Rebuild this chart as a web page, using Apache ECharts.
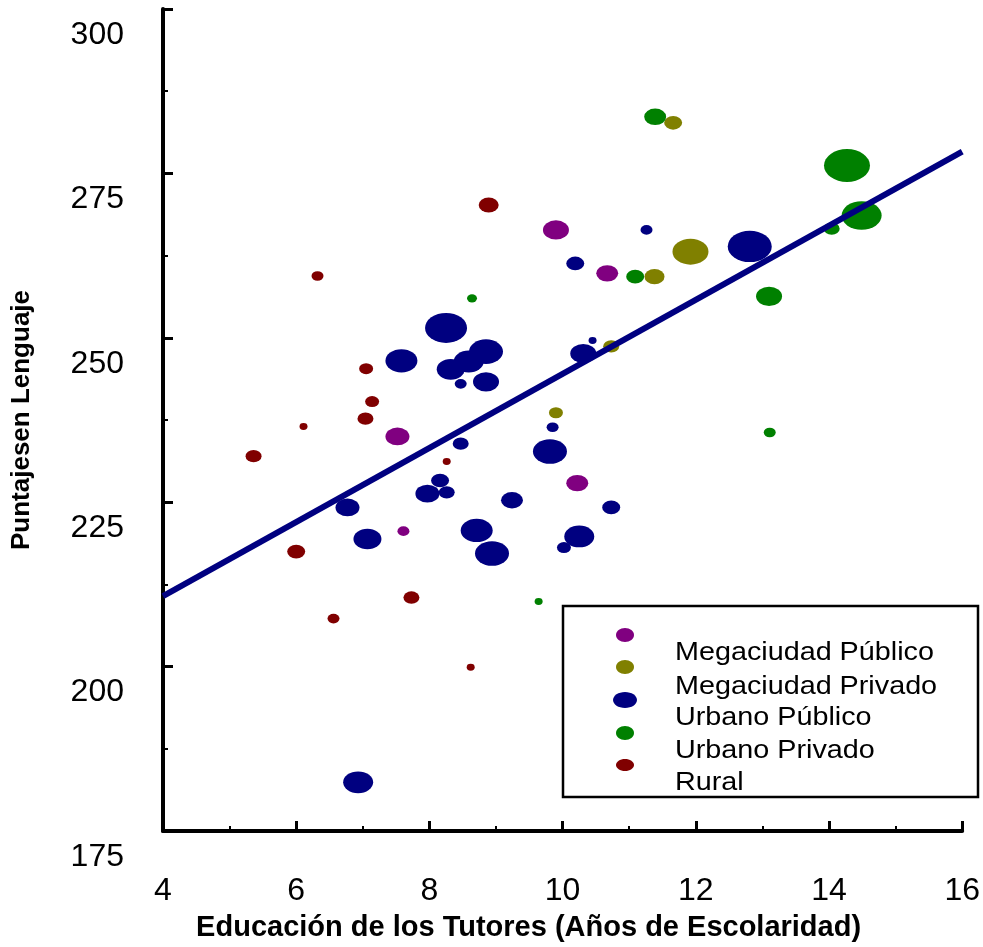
<!DOCTYPE html>
<html>
<head>
<meta charset="utf-8">
<script src="https://cdn.jsdelivr.net/npm/echarts@6/dist/echarts.min.js"></script>
<style>
  html, body { margin: 0; padding: 0; background: #fff; }
  #chart { width: 983px; height: 947px; }
</style>
</head>
<body>
<div id="chart"></div>
<script>
// Datos: [educación tutores, puntaje lenguaje, tamaño]
const megaPublico = [
    [9.90, 266.4, 26], [10.67, 259.8, 22], [7.52, 235.0, 24], [10.22, 227.9, 22], [7.61, 220.6, 12]
];
const megaPrivado = [
    [11.66, 282.7, 18], [11.92, 263.1, 36], [11.38, 259.3, 20], [10.73, 248.7, 16], [9.90, 238.6, 14]
];
const urbanoPublico = [
    [12.81, 263.9, 44], [11.26, 266.4, 12], [10.19, 261.3, 18], [10.45, 249.6, 8], [10.31, 247.6, 26],
    [8.25, 251.5, 42], [7.58, 246.5, 32], [8.85, 247.9, 34], [8.59, 246.4, 30], [8.32, 245.2, 28],
    [8.85, 243.3, 26], [8.47, 243.0, 12], [8.47, 233.9, 16], [9.81, 232.7, 34], [9.85, 236.4, 12],
    [8.16, 228.3, 18], [7.97, 226.3, 24], [8.26, 226.5, 16], [9.24, 225.3, 22], [10.73, 224.2, 18],
    [8.71, 220.7, 32], [8.94, 217.2, 34], [10.25, 219.8, 30], [10.02, 218.1, 14], [6.77, 224.2, 24],
    [7.07, 219.4, 28], [6.93, 182.4, 30]
];
const urbanoPrivado = [
    [11.39, 283.6, 22], [14.27, 276.2, 46], [14.49, 268.6, 40], [14.04, 266.6, 16], [11.09, 259.3, 18],
    [13.10, 256.3, 26], [8.64, 256.0, 10], [13.11, 235.6, 12], [9.64, 209.9, 8]
];
const rural = [
    [8.89, 270.2, 20], [6.32, 259.4, 12], [7.05, 245.3, 14], [7.14, 240.3, 14], [7.04, 237.7, 16],
    [6.11, 236.5, 8], [5.36, 232.0, 16], [8.26, 231.2, 8], [6.00, 217.5, 18], [7.73, 210.5, 16],
    [6.56, 207.3, 12], [8.62, 199.9, 8]
];
// recta de regresión
const tendencia = [[4, 210.7], [16, 278.3]];

const grupos = [
    { name: 'Megaciudad Público', color: '#800080', data: megaPublico },
    { name: 'Megaciudad Privado', color: '#808000', data: megaPrivado },
    { name: 'Urbano Público', color: '#000080', data: urbanoPublico },
    { name: 'Urbano Privado', color: '#008000', data: urbanoPrivado },
    { name: 'Rural', color: '#800000', data: rural }
];

const FONT = '"Liberation Sans", Arial, sans-serif';

// burbujas elípticas (más anchas que altas)
const bubbleSize = v => [v[2], v[2] * 0.68 + 1.5];

const chart = echarts.init(document.getElementById('chart'));

const series = grupos.map(g => ({
    name: g.name,
    type: 'scatter',
    data: g.data,
    symbol: 'circle',
    symbolSize: bubbleSize,
    itemStyle: { color: g.color, opacity: 1 },
    z: 2
}));

series.push({
    name: 'Tendencia',
    type: 'line',
    data: tendencia,
    symbol: 'none',
    lineStyle: { color: '#000080', width: 6 },
    z: 5,
    silent: true
});

// leyenda dibujada a mano (marcadores y textos desfasados como en el original)
const legendX = 563, legendY = 606;
const markerY = [635, 667, 700, 733, 765];
const markerR = [[9, 7], [9, 7], [12, 8], [9, 7], [9, 6]];
const textY = [653, 687, 718, 751, 783];
const legendGraphic = [{
    type: 'rect',
    shape: { x: legendX, y: legendY, width: 415, height: 191 },
    style: { fill: '#fff', stroke: '#000', lineWidth: 2.5 },
    z: 10
}];
grupos.forEach((g, i) => {
    legendGraphic.push({
        type: 'ellipse',
        shape: { cx: 625, cy: markerY[i], rx: markerR[i][0], ry: markerR[i][1] },
        style: { fill: g.color },
        z: 11
    });
    legendGraphic.push({
        type: 'text',
        x: 675,
        y: textY[i],
        scaleX: 1.15,
        style: {
            text: g.name,
            fill: '#000',
            font: '25px ' + FONT,
            verticalAlign: 'middle',
            align: 'left'
        },
        z: 11
    });
});

const option = {
    backgroundColor: '#fff',
    animation: false,
    grid: { left: 163, right: 18, top: 9, bottom: 115 },
    xAxis: {
        type: 'value',
        min: 4,
        max: 16,
        interval: 2,
        name: 'Educación de los Tutores (Años de Escolaridad)',
        nameLocation: 'middle',
        nameGap: 82,
        nameTextStyle: {
            fontFamily: FONT, fontSize: 29, fontWeight: 'bold', color: '#000',
            padding: [0, 68, 0, 0]
        },
        axisLine: { show: true, lineStyle: { color: '#000', width: 4 } },
        axisTick: { show: true, inside: true, length: 10, lineStyle: { color: '#000', width: 3 } },
        minorTick: { show: true, splitNumber: 2, length: 5, lineStyle: { color: '#000', width: 2 } },
        splitLine: { show: false },
        axisLabel: {
            fontFamily: FONT, fontSize: 32, color: '#000', margin: 44,
            showMinLabel: true, showMaxLabel: true
        }
    },
    yAxis: {
        type: 'value',
        min: 175,
        max: 300,
        interval: 25,
        name: 'Puntajesen Lenguaje',
        nameLocation: 'middle',
        nameRotate: 90,
        nameGap: 128,
        nameTextStyle: { fontFamily: FONT, fontSize: 26, fontWeight: 'bold', color: '#000' },
        axisLine: { show: true, lineStyle: { color: '#000', width: 4 } },
        axisTick: { show: true, inside: true, length: 10, lineStyle: { color: '#000', width: 3 } },
        minorTick: { show: true, splitNumber: 2, length: 5, lineStyle: { color: '#000', width: 2 } },
        splitLine: { show: false },
        axisLabel: {
            fontFamily: FONT, fontSize: 32, color: '#000', margin: 39,
            verticalAlign: 'top', lineHeight: 52,
            showMinLabel: true, showMaxLabel: true
        }
    },
    series: series,
    graphic: legendGraphic
};

chart.setOption(option);
window.addEventListener('resize', () => chart.resize());
</script>
</body>
</html>
